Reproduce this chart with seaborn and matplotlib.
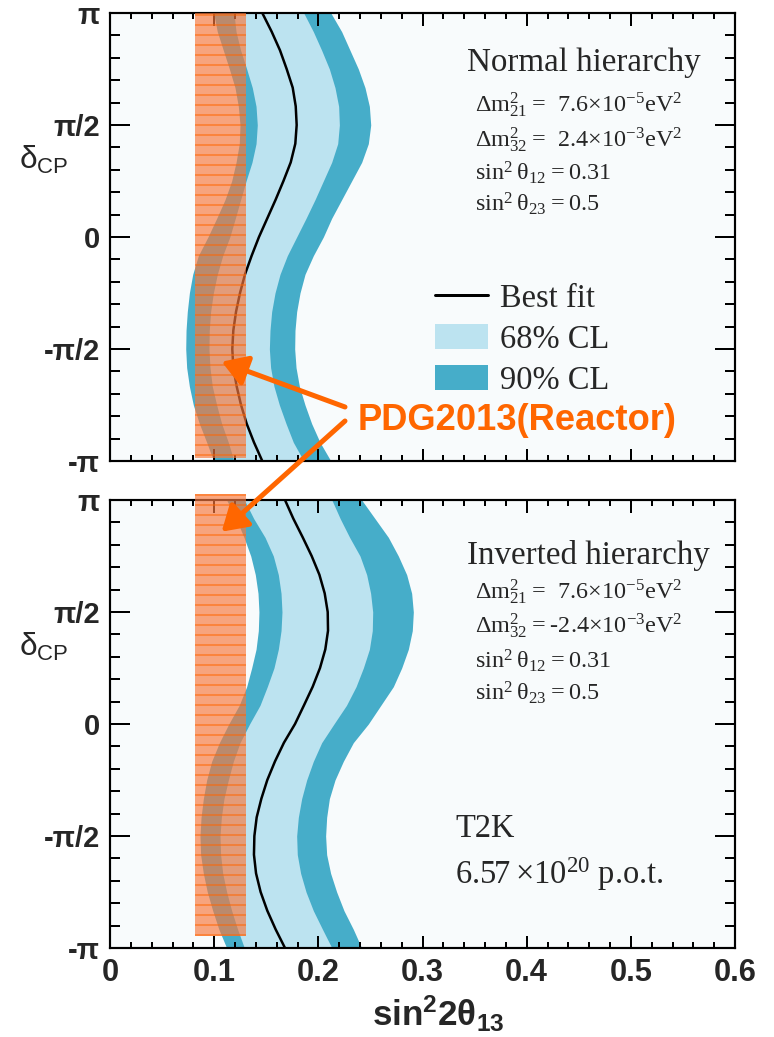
import numpy as np
import matplotlib
matplotlib.use("Agg")
import matplotlib.pyplot as plt
from matplotlib.patches import Patch, Rectangle
from matplotlib.lines import Line2D
from matplotlib.ticker import MultipleLocator
from matplotlib.colors import to_rgba
import seaborn as sns

# ---------------------------------------------------------------------------
# delta_CP sampling (degrees) and sin^2(2 theta13) contours
# ---------------------------------------------------------------------------
delta_deg = [180, 165, 150, 135, 120, 105, 90, 75, 60, 45, 30, 15, 0,
             -15, -30, -45, -60, -75, -90, -105, -120, -135, -150, -165, -180]

# Normal hierarchy
nh_best = [0.1462, 0.1552, 0.1632, 0.1696, 0.1754, 0.1783, 0.1792, 0.1779, 0.1735,
           0.1665, 0.1590, 0.1510, 0.1430, 0.1360, 0.1296, 0.1248, 0.1210, 0.1184,
           0.1174, 0.1184, 0.1216, 0.1258, 0.1312, 0.1382, 0.1462]
nh_lo90 = [0.0995, 0.1030, 0.1088, 0.1146, 0.1200, 0.1232, 0.1248, 0.1241, 0.1210,
           0.1168, 0.1104, 0.1024, 0.0940, 0.0848, 0.0794, 0.0762, 0.0742, 0.0730,
           0.0727, 0.0736, 0.0762, 0.0800, 0.0858, 0.0928, 0.0995]
nh_lo68 = [0.1190, 0.1210, 0.1254, 0.1312, 0.1366, 0.1402, 0.1414, 0.1402, 0.1363,
           0.1306, 0.1254, 0.1203, 0.1150, 0.1082, 0.1030, 0.0992, 0.0966, 0.0953,
           0.0950, 0.0960, 0.0982, 0.1024, 0.1072, 0.1136, 0.1190]
nh_hi68 = [0.1860, 0.1952, 0.2032, 0.2106, 0.2160, 0.2195, 0.2202, 0.2186, 0.2128,
           0.2048, 0.1968, 0.1882, 0.1792, 0.1702, 0.1632, 0.1584, 0.1552, 0.1536,
           0.1530, 0.1542, 0.1574, 0.1626, 0.1690, 0.1760, 0.1860]
nh_hi90 = [0.2120, 0.2224, 0.2304, 0.2384, 0.2448, 0.2490, 0.2503, 0.2480, 0.2416,
           0.2320, 0.2224, 0.2128, 0.2048, 0.1952, 0.1872, 0.1824, 0.1792, 0.1776,
           0.1773, 0.1786, 0.1818, 0.1872, 0.1936, 0.2016, 0.2120]

# Inverted hierarchy
ih_best = [0.1680, 0.1760, 0.1850, 0.1936, 0.2010, 0.2061, 0.2090, 0.2093, 0.2067,
           0.2016, 0.1946, 0.1862, 0.1776, 0.1670, 0.1584, 0.1510, 0.1453, 0.1408,
           0.1386, 0.1382, 0.1402, 0.1446, 0.1510, 0.1590, 0.1680]
ih_lo90 = [0.1120, 0.1210, 0.1286, 0.1351, 0.1395, 0.1421, 0.1430, 0.1424, 0.1402,
           0.1360, 0.1312, 0.1240, 0.1140, 0.1050, 0.0976, 0.0928, 0.0896, 0.0874,
           0.0864, 0.0870, 0.0896, 0.0934, 0.0986, 0.1045, 0.1120]
ih_lo68 = [0.1290, 0.1380, 0.1488, 0.1568, 0.1616, 0.1642, 0.1651, 0.1642, 0.1616,
           0.1574, 0.1510, 0.1440, 0.1340, 0.1248, 0.1184, 0.1136, 0.1094, 0.1069,
           0.1056, 0.1062, 0.1082, 0.1120, 0.1168, 0.1225, 0.1290]
ih_hi68 = [0.2130, 0.2210, 0.2300, 0.2400, 0.2464, 0.2502, 0.2522, 0.2518, 0.2490,
           0.2432, 0.2362, 0.2270, 0.2150, 0.2032, 0.1952, 0.1888, 0.1840, 0.1808,
           0.1792, 0.1798, 0.1830, 0.1882, 0.1952, 0.2040, 0.2130]
ih_hi90 = [0.2416, 0.2544, 0.2672, 0.2768, 0.2848, 0.2896, 0.2912, 0.2902, 0.2864,
           0.2800, 0.2720, 0.2600, 0.2480, 0.2336, 0.2240, 0.2160, 0.2106, 0.2080,
           0.2070, 0.2080, 0.2118, 0.2176, 0.2246, 0.2336, 0.2416]

# Reactor (PDG2013) allowed range of sin^2(2 theta13)
reactor_lo, reactor_hi = 0.082, 0.131

# Axis ticks and labels
y_ticks = [-np.pi, -np.pi / 2, 0, np.pi / 2, np.pi]
y_tick_labels = ["-π", "-π/2", "0", "π/2", "π"]
x_ticks = [0.0, 0.1, 0.2, 0.3, 0.4, 0.5, 0.6]
x_tick_labels = ["0", "0.1", "0.2", "0.3", "0.4", "0.5", "0.6"]

legend_labels = ["Best fit", "68% CL", "90% CL"]
nh_title = "Normal hierarchy"
ih_title = "Inverted hierarchy"
nh_params = [r"$\Delta m^2_{21} =\ 7.6{\times}10^{-5}eV^2$",
             r"$\Delta m^2_{32} =\ 2.4{\times}10^{-3}eV^2$",
             r"$sin^2\,\theta_{12} = 0.31$",
             r"$sin^2\,\theta_{23} = 0.5$"]
ih_params = [r"$\Delta m^2_{21} =\ 7.6{\times}10^{-5}eV^2$",
             r"$\Delta m^2_{32} = $-$2.4{\times}10^{-3}eV^2$",
             r"$sin^2\,\theta_{12} = 0.31$",
             r"$sin^2\,\theta_{23} = 0.5$"]
exp_name = "T2K"
exp_pot = r"6.57$\,{\times}10^{20}$ p.o.t."
reactor_label = "PDG2013(Reactor)"

# ---------------------------------------------------------------------------
# Style
# ---------------------------------------------------------------------------
sns.set_style("ticks")
plt.rcParams["font.family"] = ["Liberation Sans", "DejaVu Sans"]
plt.rcParams["mathtext.fontset"] = "custom"
plt.rcParams["mathtext.default"] = "regular"
plt.rcParams["hatch.linewidth"] = 0.6

LIGHT = "#BCE3F0"
DARK = "#46ADC9"
ORANGE = "#FF6600"
BAND_FILL = to_rgba("#F7783D", 0.66)
SERIF = "Liberation Serif"

W, H = 774, 1037
DPI = 120
fig = plt.figure(figsize=(W / DPI, H / DPI), dpi=DPI)
fig.patch.set_facecolor("white")

ax_l, ax_w = 110 / W, 625 / W
ax_h = 448 / H
ax_nh = fig.add_axes([ax_l, 1 - 461 / H, ax_w, ax_h])
ax_ih = fig.add_axes([ax_l, 1 - 948 / H, ax_w, ax_h])

delta = np.deg2rad(delta_deg)


def draw_panel(ax, best, lo68, hi68, lo90, hi90, band_y):
    ax.set_facecolor("#F8FBFC")
    ax.fill_betweenx(delta, lo90, hi90, color=DARK, lw=0, zorder=1)
    ax.fill_betweenx(delta, lo68, hi68, color=LIGHT, lw=0, zorder=1.2)
    sns.lineplot(x=best, y=delta, sort=False, estimator=None, color="black",
                 lw=1.5, ax=ax, zorder=2)
    band = Rectangle((reactor_lo, band_y[0]), reactor_hi - reactor_lo,
                     band_y[1] - band_y[0], facecolor=BAND_FILL, edgecolor=ORANGE,
                     lw=0, hatch="--", zorder=3, clip_on=False)
    ax.add_patch(band)

    ax.set_xlim(0, 0.6)
    ax.set_ylim(-np.pi, np.pi)
    ax.set_axisbelow(False)
    ax.set_yticks(y_ticks, y_tick_labels, fontweight="bold", fontsize=17.5)
    ax.xaxis.set_major_locator(MultipleLocator(0.1))
    ax.xaxis.set_minor_locator(MultipleLocator(0.02))
    ax.yaxis.set_minor_locator(MultipleLocator(np.pi / 10))
    ax.tick_params(which="both", direction="in", top=True, right=True,
                   width=1.2, color="black")
    ax.tick_params(axis="y", which="major", length=12, pad=6)
    ax.tick_params(axis="y", which="minor", length=6)
    ax.tick_params(axis="x", which="major", length=7.5, pad=6)
    ax.tick_params(axis="x", which="minor", length=3.8)
    for s in ax.spines.values():
        s.set_linewidth(1.3)
        s.set_color("black")
    ax.set_xlabel("")
    ax.set_ylabel("")
    ax.text(-0.1056, 0.671, r"$\delta_{CP}$", transform=ax.transAxes,
            fontsize=19, ha="center", va="center")


draw_panel(ax_nh, nh_best, nh_lo68, nh_hi68, nh_lo90, nh_hi90,
           (-np.pi + 0.042, np.pi))
draw_panel(ax_ih, ih_best, ih_lo68, ih_hi68, ih_lo90, ih_hi90,
           (-np.pi + 0.17, np.pi + 0.085))

ax_nh.set_xticks(x_ticks, [""] * len(x_ticks))
ax_ih.set_xticks(x_ticks, x_tick_labels, fontweight="bold", fontsize=18.5)
ax_ih.set_xlabel(r"$sin^22\theta_{13}$", fontweight="bold", fontsize=21,
                 va="center")
ax_ih.xaxis.set_label_coords(0.525, -0.148)

# Text blocks
ax_nh.text(0.571, 0.8705, nh_title, transform=ax_nh.transAxes, family=SERIF,
           fontsize=19.8, va="baseline")
for txt, yb in zip(nh_params, [0.779, 0.7016, 0.627, 0.5565]):
    ax_nh.text(0.584, yb, txt, transform=ax_nh.transAxes, family=SERIF,
               fontsize=14.5, va="baseline")

ax_ih.text(0.571, 0.858, ih_title, transform=ax_ih.transAxes, family=SERIF,
           fontsize=19.8, va="baseline")
for txt, yb in zip(ih_params, [0.779, 0.703, 0.625, 0.5536]):
    ax_ih.text(0.584, yb, txt, transform=ax_ih.transAxes, family=SERIF,
               fontsize=14.5, va="baseline")
ax_ih.text(0.552, 0.2478, exp_name, transform=ax_ih.transAxes, family=SERIF,
           fontsize=19.5, va="baseline")
ax_ih.text(0.552, 0.1429, exp_pot, transform=ax_ih.transAxes, family=SERIF,
           fontsize=19.5, va="baseline")

# Legend
handles = [Line2D([], [], color="black", lw=1.8),
           Patch(facecolor=LIGHT, edgecolor="none"),
           Patch(facecolor=DARK, edgecolor="none")]
ax_nh.legend(handles, legend_labels, loc="center left",
             bbox_to_anchor=(0.52, 0.272), frameon=False,
             prop={"family": SERIF, "size": 19.5}, handlelength=1.63,
             handleheight=0.83, handletextpad=0.37, labelspacing=0.31,
             borderpad=0, borderaxespad=0)

# Reactor annotation
fig.text(517 / W, 1 - 430 / H, reactor_label, color=ORANGE, fontsize=21.8,
         fontweight="bold", ha="center", va="baseline")
arrow_kw = dict(arrowstyle="-|>,head_length=0.45,head_width=0.28",
                color=ORANGE, lw=3, mutation_scale=28, shrinkA=0, shrinkB=0)
ax_nh.annotate("", xy=(0.1072, -1.749), xycoords="data",
               xytext=(345 / W, 1 - 407 / H), textcoords="figure fraction",
               arrowprops=arrow_kw, annotation_clip=False, zorder=6)
ax_ih.annotate("", xy=(0.1072, 2.697), xycoords="data",
               xytext=(345 / W, 1 - 421 / H), textcoords="figure fraction",
               arrowprops=arrow_kw, annotation_clip=False, zorder=6)

fig.savefig("out.png", dpi=DPI)
